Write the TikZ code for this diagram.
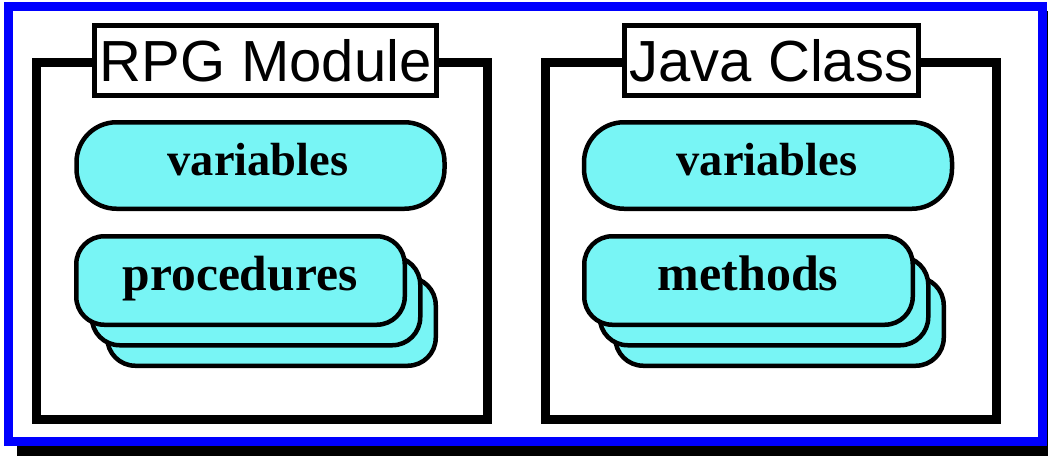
\documentclass[tikz,border=0pt]{standalone}
\usepackage{fontspec}
\setmainfont{Liberation Serif}
\newfontfamily\titlefont{Liberation Sans}
\definecolor{pillcyan}{RGB}{120,245,245}
\definecolor{framebl}{RGB}{0,0,255}
\begin{document}
\begin{tikzpicture}[x=1pt,y=-1pt,
  frame/.style={draw=black, line width=9pt, rectangle, inner sep=0pt, minimum width=451pt, minimum height=357pt},
  titlebox/.style={draw=black, fill=white, line width=5pt, inner sep=0pt, minimum height=70pt, font=\titlefont\fontsize{58}{60}\selectfont},
  pill/.style={draw=black, fill=pillcyan, line width=4.5pt, inner sep=0pt, rounded corners=40pt, minimum width=368pt, minimum height=86.5pt},
  card/.style={draw=black, fill=pillcyan, line width=4.5pt, inner sep=0pt, rounded corners=28pt, minimum width=328.5pt, minimum height=88.5pt},
  lbl/.style={anchor=base, inner sep=0pt, font=\bfseries\fontsize{#1}{50}\selectfont},
  lbl/.default=48]
\useasboundingbox (0,0) rectangle (1048,456);
\fill[black] (17,11) rectangle (1048,456);
\draw[framebl, line width=9pt, fill=white] (8.5,6.5) rectangle (1042.5,441.5);

% RPG Module
\node[frame] (rpg) at (262,241) {};
\node[titlebox, minimum width=342pt] (rpgtitle) at (265.5,60.5) {RPG Module};
\node[pill] (rpgvar) at (260.5,165.5) {};
\node[lbl=46.5] (rpgvarlbl) at (258,175) {variables};
\node[card] (rpgproc3) at (271.5,321.5) {};
\node[card] (rpgproc2) at (256,301) {};
\node[card] (rpgproc1) at (240.5,280.5) {};
\node[lbl=49.5] (rpgproclbl) at (240,290) {procedures};

% Java Class
\node[frame] (java) at (771,241) {};
\node[titlebox, minimum width=294pt] (javatitle) at (771.5,60.5) {Java Class};
\node[pill] (javavar) at (768,165.5) {};
\node[lbl=46.5] (javavarlbl) at (767,175) {variables};
\node[card] (javameth3) at (779.5,321.5) {};
\node[card] (javameth2) at (764,301) {};
\node[card] (javameth1) at (748.5,280.5) {};
\node[lbl=50] (javamethlbl) at (748,290) {methods};
\end{tikzpicture}
\end{document}
